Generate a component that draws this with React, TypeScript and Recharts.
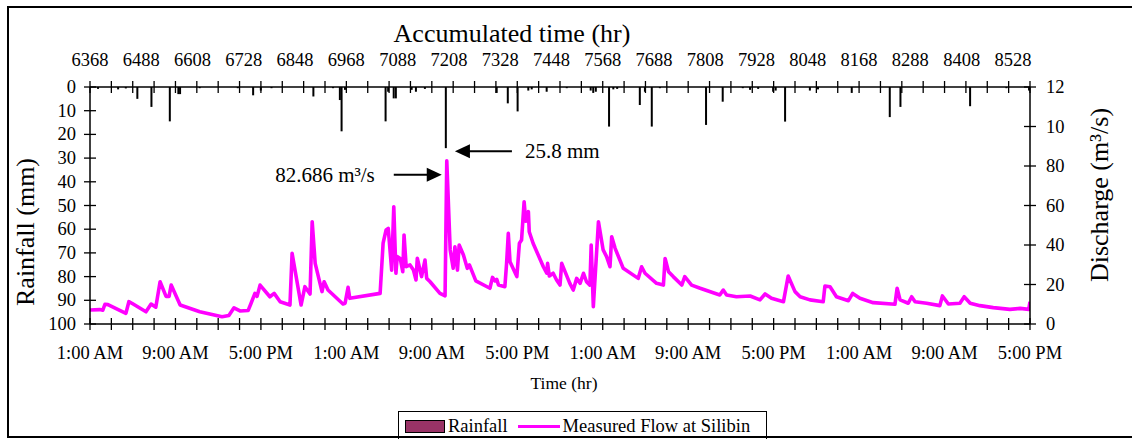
import React from "react";
import { ComposedChart, Bar, Line, XAxis, YAxis, Legend, ReferenceDot } from "recharts";

const FONT = "'Liberation Serif', 'Times New Roman', Times, serif";

// accumulated hours shown along the top, clock labels along the bottom
const T_START = 6368;
const T_END = 8568;
const accumLabels = [6368, 6488, 6608, 6728, 6848, 6968, 7088, 7208, 7328, 7448, 7568, 7688, 7808, 7928, 8048, 8168, 8288, 8408, 8528];
const clockLabels = ["1:00 AM", "9:00 AM", "5:00 PM", "1:00 AM", "9:00 AM", "5:00 PM", "1:00 AM", "9:00 AM", "5:00 PM", "1:00 AM", "9:00 AM", "5:00 PM"];
const CLOCK_STEP = 200;
const MARK_STEP = 50;

const rainTicks = [0, 10, 20, 30, 40, 50, 60, 70, 80, 90, 100];
const flowTicks = [0, 20, 40, 60, 80, 100, 120];
const flowTickText = ["0", "20", "40", "60", "80", "10", "12"];

// hourly rainfall (mm), only hours with rain
const rainHours = [6387, 6434, 6452, 6479, 6512, 6555, 6575, 6579, 6625, 6714, 6750, 6768, 6793, 6891, 6937, 6953, 6957, 6965, 7060, 7066, 7079, 7084, 7121, 7131, 7152, 7201, 7320, 7346, 7369, 7394, 7402, 7437, 7484, 7540, 7546, 7552, 7583, 7593, 7602, 7655, 7667, 7683, 7702, 7810, 7849, 7896, 7913, 7932, 7967, 7973, 7995, 8053, 8072, 8151, 8240, 8265, 8428, 8513, 8566];
const rainMm = [0.8, 1, 0.6, 5, 8.4, 14.5, 3, 3, 0.5, 0.5, 3.5, 1.5, 0.5, 4, 0.5, 5.5, 18.7, 1.2, 14.5, 2, 4.8, 4.8, 1.2, 2, 0.8, 25.8, 2.5, 6.9, 10.3, 1.5, 1, 2, 0.5, 1.5, 2.5, 2, 16.7, 1, 0.8, 7.6, 2, 16.7, 0.5, 16, 6.2, 0.5, 1.2, 0.8, 2, 1.5, 14.6, 1.5, 1, 2.5, 12.7, 8.4, 8.1, 0.5, 1.5];

// measured discharge at Silibin (m3/s)
const flowHours = [6368, 6391, 6398, 6403, 6410, 6452, 6459, 6466, 6499, 6511, 6522, 6532, 6546, 6553, 6558, 6579, 6625, 6677, 6693, 6705, 6719, 6738, 6745, 6754, 6759, 6766, 6789, 6799, 6813, 6836, 6841, 6862, 6871, 6883, 6888, 6895, 6911, 6916, 6925, 6960, 6965, 6972, 6976, 7047, 7054, 7061, 7066, 7074, 7079, 7084, 7087, 7094, 7100, 7103, 7108, 7117, 7125, 7131, 7134, 7144, 7152, 7156, 7164, 7187, 7199, 7203, 7211, 7218, 7222, 7228, 7232, 7242, 7251, 7256, 7271, 7304, 7310, 7316, 7320, 7324, 7339, 7343, 7347, 7351, 7367, 7373, 7378, 7384, 7388, 7394, 7396, 7405, 7429, 7437, 7439, 7443, 7452, 7460, 7468, 7472, 7476, 7491, 7499, 7507, 7515, 7523, 7530, 7538, 7541, 7546, 7558, 7569, 7577, 7585, 7589, 7597, 7616, 7651, 7659, 7667, 7694, 7710, 7714, 7722, 7733, 7753, 7760, 7776, 7796, 7842, 7850, 7858, 7881, 7913, 7936, 7948, 7963, 7991, 8002, 8018, 8030, 8053, 8084, 8088, 8100, 8115, 8143, 8153, 8170, 8201, 8252, 8257, 8264, 8283, 8291, 8299, 8326, 8357, 8363, 8377, 8404, 8414, 8428, 8451, 8482, 8521, 8545, 8565, 8568];
const flowCms = [7.1, 7.3, 7.0, 10.0, 9.8, 5.4, 11.3, 10.5, 6.2, 10.1, 8.5, 21.4, 14, 14, 19.7, 9.6, 6.2, 3.7, 4.3, 8.2, 6.6, 6.8, 10.5, 15.5, 14, 19.7, 13.8, 15.5, 11.3, 9.6, 35.8, 9.6, 18.9, 15.2, 51.8, 30.7, 16.4, 21.4, 17.2, 10.1, 10.5, 18.6, 13, 15.5, 40.9, 47.6, 48.4, 27.3, 59.4, 25.7, 34.1, 33.2, 26.5, 45.1, 29, 29.9, 27.3, 22.3, 33.3, 24, 32.4, 23.1, 21.4, 15.5, 14.3, 82.686, 37.5, 28.2, 39.1, 27.3, 40, 34.9, 28.2, 29.9, 21.8, 18.1, 23.6, 21.8, 22.6, 19.7, 18.9, 30.7, 45.9, 31.5, 24, 40.9, 42.5, 61.9, 52, 56.9, 46.7, 40.9, 29, 25.7, 30.7, 24.3, 25.7, 22.3, 19.7, 30.7, 28.5, 20.6, 17.2, 23.1, 20.6, 25.7, 21.4, 19.7, 40, 8.8, 51.8, 37.5, 34.1, 29, 44.2, 38.3, 28.2, 23.1, 29, 25.7, 20.6, 19.7, 33.2, 26.5, 24, 19.7, 24, 19.7, 18.1, 14.7, 17.2, 14.7, 13.8, 14.2, 12.2, 15.2, 13, 11.3, 24.3, 16.4, 13.8, 12.2, 11.3, 19.2, 18.9, 13.8, 11.8, 15.5, 13, 10.8, 10, 18.1, 12.2, 10.5, 13.8, 11.3, 10.5, 9.3, 14.2, 10.1, 10.5, 13.8, 10.5, 9.3, 8.3, 7.4, 7.9, 7.4, 11.3];

const peakFlow = { t: 7203, q: 82.686 };
const peakRain = { t: 7201, mm: 25.8 };

const rainRows = rainHours.map((t, i) => ({ t, rain: rainMm[i] }));
const flowRows = flowHours.map((t, i) => ({ t, flow: flowCms[i] }));

const markTicks: number[] = [];
for (let t = T_START; t <= T_END; t += MARK_STEP) markTicks.push(t);
const topTicks = Array.from(new Set([...markTicks, ...accumLabels])).sort((a, b) => a - b);

function TopTick({ x, y, payload }: any) {
  const v = payload.value;
  return (
    <g>
      {(v - T_START) % MARK_STEP === 0 && <line x1={x} x2={x} y1={y - 6} y2={y + 6} stroke="#000" strokeWidth={1.3} />}
      {accumLabels.includes(v) && (
        <text x={x} y={y - 21} textAnchor="middle" fontSize={18.5} fontFamily={FONT} fill="#000">{v}</text>
      )}
    </g>
  );
}

function BottomTick({ x, y, payload }: any) {
  const rel = payload.value - T_START;
  const label = rel % CLOCK_STEP === 0 ? clockLabels[rel / CLOCK_STEP] : null;
  return (
    <g>
      <line x1={x} x2={x} y1={y - 6} y2={y + 6} stroke="#000" strokeWidth={1.3} />
      {label && (
        <text x={x} y={y + 35} textAnchor="middle" fontSize={18.5} fontFamily={FONT} fill="#000">{label}</text>
      )}
    </g>
  );
}

function LeftTick({ x, y, payload }: any) {
  return (
    <g>
      <line x1={x - 6} x2={x + 6} y1={y} y2={y} stroke="#000" strokeWidth={1.3} />
      <text x={x - 14} y={y + 6} textAnchor="end" fontSize={18.5} fontFamily={FONT} fill="#000">{payload.value}</text>
    </g>
  );
}

function RightTick({ x, y, payload }: any) {
  return (
    <g>
      <line x1={x - 6} x2={x + 6} y1={y} y2={y} stroke="#000" strokeWidth={1.3} />
      <text x={x + 16} y={y + 6} textAnchor="start" fontSize={18.5} fontFamily={FONT} fill="#000">
        {flowTickText[flowTicks.indexOf(payload.value)] ?? payload.value}
      </text>
    </g>
  );
}

function RainBar(props: any) {
  const { x, y, width, height } = props;
  if (!height) return null;
  const cx = x + width / 2;
  const top = Math.min(y, y + height);
  return <rect x={cx - 1} y={top} width={2} height={Math.abs(height)} fill="#000" />;
}

function FlowNote({ cx, cy }: any) {
  const ay = cy + 14;
  return (
    <g>
      <line x1={cx - 53} x2={cx - 18} y1={ay} y2={ay} stroke="#000" strokeWidth={2} />
      <polygon points={`${cx - 5},${ay} ${cx - 20},${ay - 7} ${cx - 20},${ay + 7}`} fill="#000" />
      <text x={cx - 72} y={ay + 7} textAnchor="end" fontSize={21} fontFamily={FONT} fill="#000">82.686 m³/s</text>
    </g>
  );
}

function RainNote({ cx, cy }: any) {
  const ay = cy + 3;
  return (
    <g>
      <line x1={cx + 22} x2={cx + 66} y1={ay} y2={ay} stroke="#000" strokeWidth={2} />
      <polygon points={`${cx + 9},${ay} ${cx + 24},${ay - 7} ${cx + 24},${ay + 7}`} fill="#000" />
      <text x={cx + 79} y={ay + 7} textAnchor="start" fontSize={21} fontFamily={FONT} fill="#000">25.8 mm</text>
    </g>
  );
}

function LegendBox({ payload }: any) {
  const items = [...(payload || [])].sort((a: any, b: any) => (a.type === "line" ? 1 : 0) - (b.type === "line" ? 1 : 0));
  return (
    <div
      style={{
        border: "1px solid #000",
        background: "#fff",
        display: "flex",
        alignItems: "center",
        height: 30,
        boxSizing: "border-box",
        padding: "0 6px",
        fontFamily: FONT,
        fontSize: 18.5,
        color: "#000",
        whiteSpace: "nowrap",
      }}
    >
      {items.map((it: any) =>
        it.type === "line" ? (
          <span key={it.value} style={{ display: "flex", alignItems: "center" }}>
            <span style={{ width: 42, height: 3, background: "#FF00FF", margin: "0 3px 0 10px" }} />
            {it.value}
          </span>
        ) : (
          <span key={it.value} style={{ display: "flex", alignItems: "center" }}>
            <span style={{ width: 38, height: 11, background: "#993366", border: "1.5px solid #000", marginRight: 3 }} />
            {it.value}
          </span>
        )
      )}
    </div>
  );
}

export default function App() {
  return (
    <div style={{ position: "absolute", left: 0, top: 0, width: 1132, height: 439, background: "#fff", overflow: "hidden" }}>
      <ComposedChart
        width={1132}
        height={439}
        data={rainRows}
        margin={{ top: 37, right: 42, bottom: 75, left: 30 }}
        style={{ fontFamily: FONT }}
      >
        <XAxis
          xAxisId="top"
          orientation="top"
          dataKey="t"
          type="number"
          domain={[T_START, T_END]}
          allowDataOverflow
          ticks={topTicks}
          interval={0}
          tick={<TopTick />}
          tickLine={false}
          tickSize={0}
          tickMargin={0}
          height={50}
          axisLine={{ stroke: "#000", strokeWidth: 1.5 }}
          label={(p: any) => (
            <text x={p.viewBox.x + p.viewBox.width / 2 - 48} y={42} textAnchor="middle" fontSize={26} fontFamily={FONT} fill="#000">
              Accumulated time (hr)
            </text>
          )}
        />
        <XAxis
          xAxisId="bottom"
          orientation="bottom"
          dataKey="t"
          type="number"
          domain={[T_START, T_END]}
          allowDataOverflow
          ticks={markTicks}
          interval={0}
          tick={<BottomTick />}
          tickLine={false}
          tickSize={0}
          tickMargin={0}
          height={40}
          axisLine={{ stroke: "#000", strokeWidth: 1.5 }}
          label={(p: any) => (
            <text x={p.viewBox.x + p.viewBox.width / 2 + 4} y={389} textAnchor="middle" fontSize={17.5} fontFamily={FONT} fill="#000">
              Time (hr)
            </text>
          )}
        />
        <YAxis
          yAxisId="left"
          orientation="left"
          domain={[0, 100]}
          reversed
          ticks={rainTicks}
          interval={0}
          tick={<LeftTick />}
          tickLine={false}
          tickSize={0}
          tickMargin={0}
          width={60}
          axisLine={{ stroke: "#000", strokeWidth: 1.5 }}
          label={() => (
            <text x={34} y={232} transform="rotate(-90 34 232)" textAnchor="middle" fontSize={26} fontFamily={FONT} fill="#000">
              Rainfall (mm)
            </text>
          )}
        />
        <YAxis
          yAxisId="right"
          orientation="right"
          domain={[0, 120]}
          ticks={flowTicks}
          interval={0}
          tick={<RightTick />}
          tickLine={false}
          tickSize={0}
          tickMargin={0}
          width={60}
          axisLine={{ stroke: "#000", strokeWidth: 1.5 }}
          label={() => (
            <text x={1108} y={195} transform="rotate(-90 1108 195)" textAnchor="middle" fontSize={26} fontFamily={FONT} fill="#000">
              Discharge (m³/s)
            </text>
          )}
        />
        <Bar
          xAxisId="top"
          yAxisId="left"
          dataKey="rain"
          name="Rainfall"
          fill="#993366"
          stroke="#000"
          barSize={2}
          shape={<RainBar />}
          isAnimationActive={false}
        />
        <Line
          xAxisId="bottom"
          yAxisId="right"
          data={flowRows}
          dataKey="flow"
          name="Measured Flow at Silibin"
          type="linear"
          stroke="#FF00FF"
          strokeWidth={3.6}
          strokeLinejoin="round"
          dot={false}
          activeDot={false}
          isAnimationActive={false}
        />
        <ReferenceDot xAxisId="bottom" yAxisId="right" x={peakFlow.t} y={peakFlow.q} shape={<FlowNote />} ifOverflow="visible" />
        <ReferenceDot xAxisId="top" yAxisId="left" x={peakRain.t} y={peakRain.mm} shape={<RainNote />} ifOverflow="visible" />
        <Legend
          layout="horizontal"
          verticalAlign="middle"
          align="center"
          wrapperStyle={{ left: 398, top: 411, width: 369, height: 30 }}
          content={<LegendBox />}
        />
      </ComposedChart>
      <div
        style={{
          position: "absolute",
          left: 7,
          top: 6,
          width: 1160,
          height: 432,
          border: "2px solid #000",
          boxSizing: "border-box",
          pointerEvents: "none",
        }}
      />
    </div>
  );
}
